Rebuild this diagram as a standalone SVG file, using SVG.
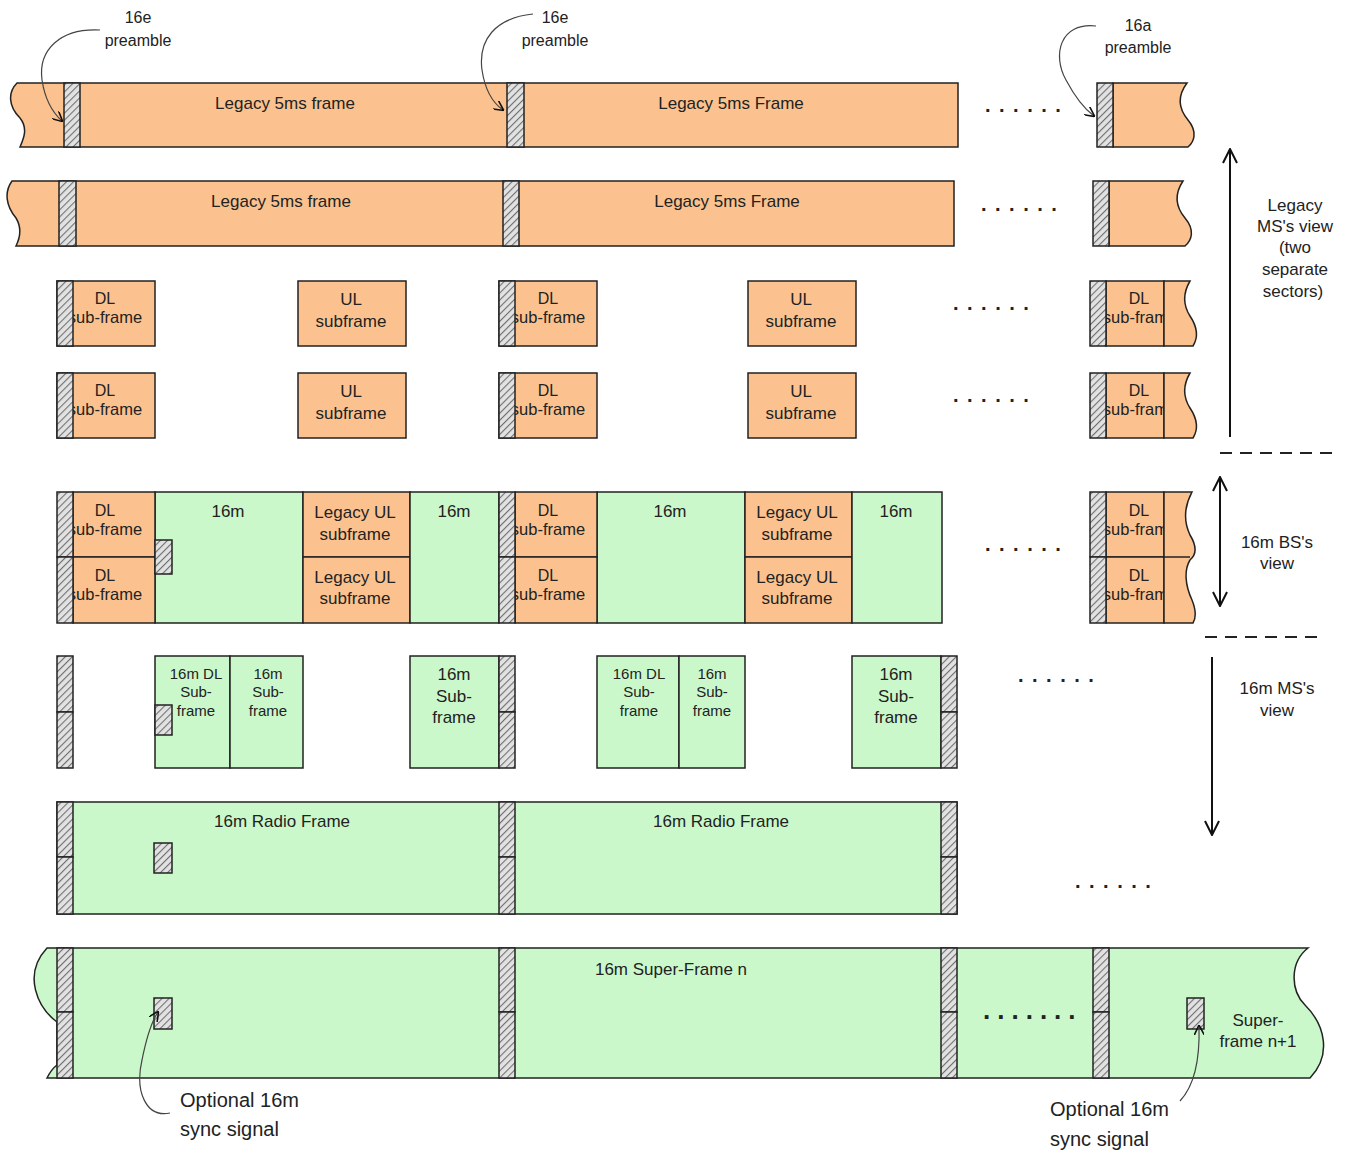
<svg xmlns="http://www.w3.org/2000/svg" width="1348" height="1151" viewBox="0 0 1348 1151">
<style>
.o{fill:#FBC28F;stroke:#222;stroke-width:1.5}
.g{fill:#CBF8CA;stroke:#222;stroke-width:1.5}
.h{fill:url(#hatch);stroke:#222;stroke-width:1.5}
.ln{stroke:#222;stroke-width:1.5;fill:none}
text{font-family:"Liberation Sans",Arial,sans-serif;fill:#222;text-anchor:middle}
.t17{font-size:17px}
.t15{font-size:15px}
.sf{font-size:16.5px}
.t16{font-size:16px}
.t20{font-size:20px}
.dots{font-size:20px;font-weight:bold;text-anchor:start;letter-spacing:8.5px}
.bdots{font-size:26px;font-weight:bold;text-anchor:start;letter-spacing:7px}
.curve{stroke:#444;stroke-width:1.2;fill:none}
.arr{stroke:#111;stroke-width:2;fill:none}
.dash{stroke:#222;stroke-width:1.8;stroke-dasharray:12 8;fill:none}
</style>
<defs>
<pattern id="hatch" patternUnits="userSpaceOnUse" width="5" height="5" patternTransform="rotate(45)">
<rect width="5" height="5" fill="#e2e2e2"/>
<line x1="0" y1="0" x2="0" y2="5" stroke="#707070" stroke-width="2.2"/>
</pattern>
<marker id="ah" viewBox="0 0 10 10" refX="9" refY="5" markerWidth="10" markerHeight="10" markerUnits="userSpaceOnUse" orient="auto-start-reverse">
<path d="M0,0 L10,5 L0,10" fill="none" stroke="#111" stroke-width="1.6"/>
</marker>
<marker id="big" viewBox="0 0 16 16" refX="15" refY="8" markerWidth="16" markerHeight="16" markerUnits="userSpaceOnUse" orient="auto-start-reverse">
<path d="M1,1 L15,8 L1,15" fill="none" stroke="#111" stroke-width="2"/>
</marker>
</defs>
<rect width="1348" height="1151" fill="#ffffff"/>

<!-- Row 1 -->
<g id="row1">
<path class="o" d="M17,83 H958 V147 H20 C24,138 28,128 20,118 C8,106 8,92 17,83 Z"/>
<rect class="h" x="64" y="83" width="16" height="64"/>
<rect class="h" x="507" y="83" width="17" height="64"/>
<text class="t17" x="285" y="109">Legacy 5ms frame</text>
<text class="t17" x="731" y="109">Legacy 5ms Frame</text>
<text class="dots" x="985" y="112">......</text>
</g>
<g id="row1-end">
<path class="o" d="M1113,83 H1187 C1178,95 1178,108 1188,120 C1198,132 1194,142 1188,147 H1113 Z"/>
<rect class="h" x="1097" y="83" width="16" height="64"/>
</g>

<!-- Row 2 -->
<g id="row2">
<path class="o" d="M12,181 H954 V246 H16 C20,238 22,228 16,218 C6,206 4,192 12,181 Z"/>
<rect class="h" x="59" y="181" width="17" height="65"/>
<rect class="h" x="503" y="181" width="16" height="65"/>
<text class="t17" x="281" y="207">Legacy 5ms frame</text>
<text class="t17" x="727" y="207">Legacy 5ms Frame</text>
<text class="dots" x="981" y="211">......</text>
</g>
<g id="row2-end">
<path class="o" d="M1109,181 H1183 C1175,193 1175,206 1185,218 C1195,230 1192,240 1185,246 H1109 Z"/>
<rect class="h" x="1093" y="181" width="16" height="65"/>
</g>

<!-- Row 3 -->
<g id="row3-dl1">
<rect class="o" x="57" y="281" width="98" height="65"/>
<text class="t16" x="105" y="304">DL</text>
<text class="sf" x="105" y="323">sub-frame</text>
<rect class="h" x="57" y="281" width="16" height="65"/>
</g>
<g id="row3-ul1">
<rect class="o" x="298" y="281" width="108" height="65"/>
<text class="t17" x="351" y="305">UL</text>
<text class="t17" x="351" y="327">subframe</text>
</g>
<g id="row3-dl2">
<rect class="o" x="499" y="281" width="98" height="65"/>
<text class="t16" x="548" y="304">DL</text>
<text class="sf" x="548" y="323">sub-frame</text>
<rect class="h" x="499" y="281" width="16" height="65"/>
</g>
<g id="row3-ul2">
<rect class="o" x="748" y="281" width="108" height="65"/>
<text class="t17" x="801" y="305">UL</text>
<text class="t17" x="801" y="327">subframe</text>
</g>
<text class="dots" x="953" y="310">......</text>
<g id="row3-end">
<rect class="o" x="1106" y="281" width="58" height="65"/>
<text class="t16" x="1139" y="304">DL</text>
<text class="sf" x="1140" y="323">sub-frame</text>
<path class="o" d="M1164,281 H1190 C1183,293 1183,305 1190,316 C1198,328 1198,338 1193,346 H1164 Z"/>
<rect class="h" x="1090" y="281" width="16" height="65"/>
</g>

<!-- Row 4 -->
<g id="row4-dl1">
<rect class="o" x="57" y="373" width="98" height="65"/>
<text class="t16" x="105" y="396">DL</text>
<text class="sf" x="105" y="415">sub-frame</text>
<rect class="h" x="57" y="373" width="16" height="65"/>
</g>
<g id="row4-ul1">
<rect class="o" x="298" y="373" width="108" height="65"/>
<text class="t17" x="351" y="397">UL</text>
<text class="t17" x="351" y="419">subframe</text>
</g>
<g id="row4-dl2">
<rect class="o" x="499" y="373" width="98" height="65"/>
<text class="t16" x="548" y="396">DL</text>
<text class="sf" x="548" y="415">sub-frame</text>
<rect class="h" x="499" y="373" width="16" height="65"/>
</g>
<g id="row4-ul2">
<rect class="o" x="748" y="373" width="108" height="65"/>
<text class="t17" x="801" y="397">UL</text>
<text class="t17" x="801" y="419">subframe</text>
</g>
<text class="dots" x="953" y="402">......</text>
<g id="row4-end">
<rect class="o" x="1106" y="373" width="58" height="65"/>
<text class="t16" x="1139" y="396">DL</text>
<text class="sf" x="1140" y="415">sub-frame</text>
<path class="o" d="M1164,373 H1190 C1183,385 1183,397 1190,408 C1198,420 1198,430 1193,438 H1164 Z"/>
<rect class="h" x="1090" y="373" width="16" height="65"/>
</g>

<!-- Row 5 : 16m BS view -->
<g id="row5-a">
<rect class="g" x="155" y="492" width="148" height="131"/>
<text class="t17" x="228" y="517">16m</text>
<rect class="o" x="73" y="492" width="82" height="65"/>
<rect class="o" x="73" y="557" width="82" height="66"/>
<text class="t16" x="105" y="516">DL</text>
<text class="sf" x="105" y="535">sub-frame</text>
<text class="t16" x="105" y="581">DL</text>
<text class="sf" x="105" y="600">sub-frame</text>
<rect class="h" x="57" y="492" width="16" height="65"/>
<rect class="h" x="57" y="557" width="16" height="66"/>
<rect class="h" x="155" y="540" width="17" height="34"/>
<rect class="o" x="303" y="492" width="107" height="65"/>
<rect class="o" x="303" y="557" width="107" height="66"/>
<text class="t17" x="355" y="518">Legacy UL</text>
<text class="t17" x="355" y="540">subframe</text>
<text class="t17" x="355" y="583">Legacy UL</text>
<text class="t17" x="355" y="604">subframe</text>
<rect class="g" x="410" y="492" width="89" height="131"/>
<text class="t17" x="454" y="517">16m</text>
</g>
<g id="row5-b">
<rect class="g" x="597" y="492" width="148" height="131"/>
<text class="t17" x="670" y="517">16m</text>
<rect class="o" x="515" y="492" width="82" height="65"/>
<rect class="o" x="515" y="557" width="82" height="66"/>
<text class="t16" x="548" y="516">DL</text>
<text class="sf" x="548" y="535">sub-frame</text>
<text class="t16" x="548" y="581">DL</text>
<text class="sf" x="548" y="600">sub-frame</text>
<rect class="h" x="499" y="492" width="16" height="65"/>
<rect class="h" x="499" y="557" width="16" height="66"/>
<rect class="o" x="745" y="492" width="107" height="65"/>
<rect class="o" x="745" y="557" width="107" height="66"/>
<text class="t17" x="797" y="518">Legacy UL</text>
<text class="t17" x="797" y="540">subframe</text>
<text class="t17" x="797" y="583">Legacy UL</text>
<text class="t17" x="797" y="604">subframe</text>
<rect class="g" x="852" y="492" width="90" height="131"/>
<text class="t17" x="896" y="517">16m</text>
</g>
<text class="dots" x="985" y="551">......</text>
<g id="row5-end">
<rect class="o" x="1106" y="492" width="58" height="65"/>
<rect class="o" x="1106" y="557" width="58" height="66"/>
<text class="t16" x="1139" y="516">DL</text>
<text class="sf" x="1140" y="535">sub-frame</text>
<text class="t16" x="1139" y="581">DL</text>
<text class="sf" x="1140" y="600">sub-frame</text>
<path class="o" d="M1164,492 H1192 C1185,505 1183,520 1190,535 C1198,548 1196,555 1190,560 C1184,570 1185,585 1192,600 C1196,610 1196,618 1193,623 H1164 Z"/>
<line class="ln" x1="1164" y1="557" x2="1190" y2="557"/>
<rect class="h" x="1090" y="492" width="16" height="65"/>
<rect class="h" x="1090" y="557" width="16" height="66"/>
</g>

<!-- Row 6 : 16m MS view -->
<g id="row6-p1">
<rect class="h" x="57" y="656" width="16" height="56"/>
<rect class="h" x="57" y="712" width="16" height="56"/>
</g>
<g id="row6-a">
<rect class="g" x="155" y="656" width="75" height="112"/>
<rect class="g" x="230" y="656" width="73" height="112"/>
<text class="t15" x="196" y="679">16m DL</text>
<text class="t15" x="196" y="697">Sub-</text>
<text class="t15" x="196" y="716">frame</text>
<text class="t15" x="268" y="679">16m</text>
<text class="t15" x="268" y="697">Sub-</text>
<text class="t15" x="268" y="716">frame</text>
<rect class="h" x="155" y="705" width="17" height="30"/>
</g>
<g id="row6-b">
<rect class="g" x="410" y="656" width="89" height="112"/>
<text class="t17" x="454" y="680">16m</text>
<text class="t17" x="454" y="702">Sub-</text>
<text class="t17" x="454" y="723">frame</text>
<rect class="h" x="499" y="656" width="16" height="56"/>
<rect class="h" x="499" y="712" width="16" height="56"/>
</g>
<g id="row6-c">
<rect class="g" x="597" y="656" width="82" height="112"/>
<rect class="g" x="679" y="656" width="66" height="112"/>
<text class="t15" x="639" y="679">16m DL</text>
<text class="t15" x="639" y="697">Sub-</text>
<text class="t15" x="639" y="716">frame</text>
<text class="t15" x="712" y="679">16m</text>
<text class="t15" x="712" y="697">Sub-</text>
<text class="t15" x="712" y="716">frame</text>
</g>
<g id="row6-d">
<rect class="g" x="852" y="656" width="89" height="112"/>
<text class="t17" x="896" y="680">16m</text>
<text class="t17" x="896" y="702">Sub-</text>
<text class="t17" x="896" y="723">frame</text>
<rect class="h" x="941" y="656" width="16" height="56"/>
<rect class="h" x="941" y="712" width="16" height="56"/>
</g>
<text class="dots" x="1018" y="682">......</text>

<!-- Row 7 : 16m Radio Frame -->
<g id="row7">
<rect class="g" x="57" y="802" width="900" height="112"/>
<rect class="h" x="57" y="802" width="16" height="55"/>
<rect class="h" x="57" y="857" width="16" height="57"/>
<rect class="h" x="499" y="802" width="16" height="55"/>
<rect class="h" x="499" y="857" width="16" height="57"/>
<rect class="h" x="941" y="802" width="16" height="55"/>
<rect class="h" x="941" y="857" width="16" height="57"/>
<rect class="h" x="154" y="843" width="18" height="30"/>
<text class="t17" x="282" y="827">16m Radio Frame</text>
<text class="t17" x="721" y="827">16m Radio Frame</text>
</g>
<text class="dots" x="1075" y="888">......</text>

<!-- Row 8 : Super-frame -->
<g id="row8">
<path class="g" d="M47,948 H1308 C1290,962 1290,990 1305,1005 C1325,1025 1332,1055 1310,1078 H47 C50,1072 53,1068 57,1065 L57,1022 C38,1008 22,975 47,948 Z"/>
<rect class="h" x="57" y="948" width="16" height="64"/>
<rect class="h" x="57" y="1012" width="16" height="66"/>
<rect class="h" x="499" y="948" width="16" height="64"/>
<rect class="h" x="499" y="1012" width="16" height="66"/>
<rect class="h" x="941" y="948" width="16" height="64"/>
<rect class="h" x="941" y="1012" width="16" height="66"/>
<rect class="h" x="1093" y="948" width="16" height="64"/>
<rect class="h" x="1093" y="1012" width="16" height="66"/>
<rect class="h" x="154" y="998" width="18" height="31"/>
<rect class="h" x="1187" y="998" width="17" height="31"/>
<text class="t17" x="671" y="975">16m Super-Frame n</text>
<text class="t17" x="1258" y="1026">Super-</text>
<text class="t17" x="1258" y="1047">frame n+1</text>
<text class="bdots" x="983" y="1019">.......</text>
</g>

<!-- Labels -->
<g id="label-preamble1">
<text class="t16" x="138" y="23">16e</text>
<text class="t16" x="138" y="46">preamble</text>
</g>
<g id="label-preamble2">
<text class="t16" x="555" y="23">16e</text>
<text class="t16" x="555" y="46">preamble</text>
</g>
<g id="label-preamble3">
<text class="t16" x="1138" y="31">16a</text>
<text class="t16" x="1138" y="53">preamble</text>
</g>
<g id="label-legacy-view">
<text class="t17" x="1295" y="211">Legacy</text>
<text class="t17" x="1295" y="232">MS's view</text>
<text class="t17" x="1295" y="253">(two</text>
<text class="t17" x="1295" y="275">separate</text>
<text class="t17" x="1293" y="297">sectors)</text>
</g>
<g id="label-bs-view">
<text class="t17" x="1277" y="548">16m  BS's</text>
<text class="t17" x="1277" y="569">view</text>
</g>
<g id="label-ms-view">
<text class="t17" x="1277" y="694">16m  MS's</text>
<text class="t17" x="1277" y="716">view</text>
</g>
<g id="label-sync1">
<text class="t20" style="text-anchor:start" x="180" y="1107">Optional 16m</text>
<text class="t20" style="text-anchor:start" x="180" y="1136">sync signal</text>
</g>
<g id="label-sync2">
<text class="t20" style="text-anchor:start" x="1050" y="1116">Optional 16m</text>
<text class="t20" style="text-anchor:start" x="1050" y="1146">sync signal</text>
</g>

<!-- Connectors -->
<g id="connectors">
<path class="curve" marker-end="url(#ah)" d="M100,30 C60,28 38,50 42,80 C45,100 52,112 62,121"/>
<path class="curve" marker-end="url(#ah)" d="M533,14 C495,18 478,40 482,70 C485,90 493,103 503,110"/>
<path class="curve" marker-end="url(#ah)" d="M1096,26 C1060,22 1052,55 1066,80 C1074,95 1083,108 1094,116"/>
<path class="curve" marker-end="url(#ah)" d="M170,1113 C145,1118 135,1090 142,1060 C146,1040 150,1024 158,1012"/>
<path class="curve" marker-end="url(#ah)" d="M1180,1101 C1195,1085 1200,1060 1199,1026"/>
<line class="arr" marker-end="url(#big)" x1="1230" y1="437" x2="1230" y2="149"/>
<line class="arr" marker-start="url(#big)" marker-end="url(#big)" x1="1220" y1="477" x2="1220" y2="606"/>
<line class="arr" marker-end="url(#big)" x1="1212" y1="657" x2="1212" y2="835"/>
<line class="dash" x1="1220" y1="453" x2="1336" y2="453"/>
<line class="dash" x1="1205" y1="637" x2="1318" y2="637"/>
</g>
</svg>
